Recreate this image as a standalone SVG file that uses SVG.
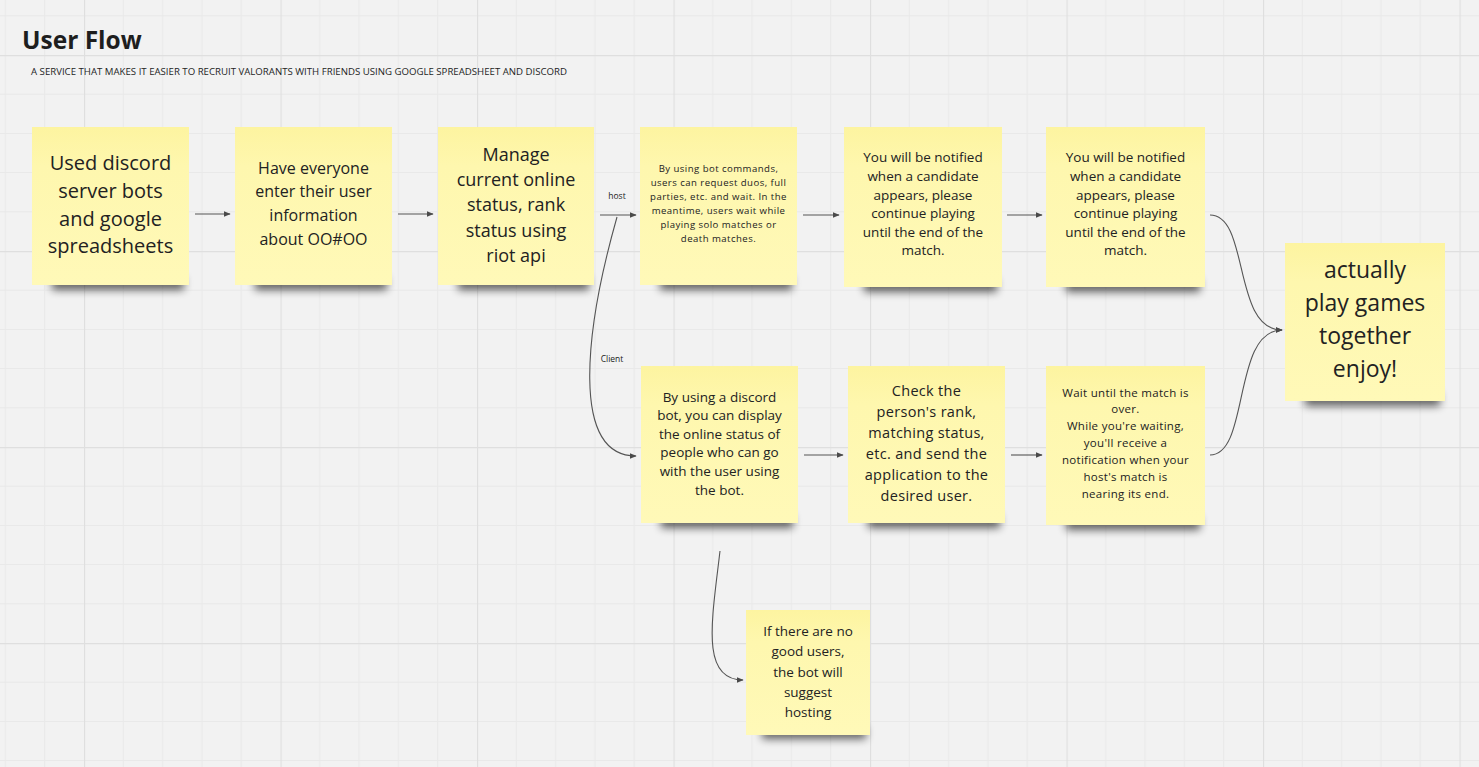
<svg xmlns="http://www.w3.org/2000/svg" width="1479" height="767" viewBox="0 0 1479 767">
<defs>
<pattern id="grid" patternUnits="userSpaceOnUse" x="84" y="55" width="196.5" height="196">
<rect width="196.5" height="196" fill="#f2f2f2"/>
<g stroke="#e9e9e9" stroke-width="1">
<line x1="39.3" y1="0" x2="39.3" y2="196"/><line x1="78.6" y1="0" x2="78.6" y2="196"/><line x1="117.9" y1="0" x2="117.9" y2="196"/><line x1="157.2" y1="0" x2="157.2" y2="196"/>
<line x1="0" y1="39.2" x2="196.5" y2="39.2"/><line x1="0" y1="78.4" x2="196.5" y2="78.4"/><line x1="0" y1="117.6" x2="196.5" y2="117.6"/><line x1="0" y1="156.8" x2="196.5" y2="156.8"/>
</g>
<g stroke="#dfdfdf" stroke-width="1.3">
<line x1="0.5" y1="0" x2="0.5" y2="196"/><line x1="0" y1="0.5" x2="196.5" y2="0.5"/>
</g>
</pattern>
<linearGradient id="noteFill" x1="0" y1="0" x2="0" y2="1">
<stop offset="0" stop-color="#fdf4a0"/>
<stop offset="0.25" stop-color="#fef7ae"/>
<stop offset="1" stop-color="#fff9b8"/>
</linearGradient>
<filter id="blur" x="-20%" y="-100%" width="140%" height="300%">
<feGaussianBlur stdDeviation="4.5"/>
</filter>
<marker id="arrow" viewBox="0 0 10 10" refX="9" refY="5" markerWidth="7" markerHeight="7" orient="auto" markerUnits="userSpaceOnUse">
<path d="M0,1 L10,5 L0,9 Z" fill="#4a4a4a"/>
</marker>
</defs>
<style>
.note{fill:url(#noteFill);}
.shadow{fill:#000;opacity:0.6;filter:url(#blur);}
.t{font-family:"Open Sans","Noto Sans","DejaVu Sans",sans-serif;fill:#222;text-anchor:middle;}
.conn{fill:none;stroke:#555;stroke-width:1.1;marker-end:url(#arrow);}
.lbl{font-family:"Open Sans","Noto Sans",sans-serif;font-size:8.5px;fill:#222;text-anchor:middle;}
</style>
<rect width="1479" height="767" fill="url(#grid)"/>

<g id="title">
<text x="22" y="49" style="font-family:'Open Sans','Noto Sans',sans-serif;font-weight:700;font-size:24.5px;fill:#1e1e1e;">User Flow</text>
<text x="31" y="75" textLength="536" lengthAdjust="spacingAndGlyphs" style="font-family:'Open Sans','Noto Sans',sans-serif;font-size:8.5px;fill:#1e1e1e;">A SERVICE THAT MAKES IT EASIER TO RECRUIT VALORANTS WITH FRIENDS USING GOOGLE SPREADSHEET AND DISCORD</text>
</g>

<g id="connectors">
<line class="conn" x1="195" y1="214" x2="230" y2="214"/>
<line class="conn" x1="398" y1="214" x2="433" y2="214"/>
<line class="conn" x1="600" y1="215" x2="636" y2="215"/>
<line class="conn" x1="803" y1="215" x2="839" y2="215"/>
<line class="conn" x1="1007" y1="215" x2="1042" y2="215"/>
<path class="conn" d="M1210,215 C1250,215 1232,330 1282,330"/>
<path class="conn" d="M1210,455 C1250,455 1232,330 1282,330"/>
<path class="conn" d="M617,217 C585,330 570,456 636,456"/>
<line class="conn" x1="804" y1="455" x2="843" y2="455"/>
<line class="conn" x1="1011" y1="455" x2="1042" y2="455"/>
<path class="conn" d="M720,551 C712,620 700,680 743,680"/>
<text class="lbl" x="617" y="199">host</text>
<text class="lbl" x="612" y="362">Client</text>
</g>

<g id="n1">
<rect class="shadow" x="52" y="277" width="132" height="13"/>
<rect class="note" x="32" y="127" width="157" height="158"/>
<text class="t" style="font-size:20px"><tspan x="110.5" y="170">Used discord</tspan><tspan x="110.5" y="198">server bots</tspan><tspan x="110.5" y="226">and google</tspan><tspan x="110.5" y="253">spreadsheets</tspan></text>
</g>

<g id="n2">
<rect class="shadow" x="255" y="277" width="132" height="13"/>
<rect class="note" x="235" y="127" width="157" height="158"/>
<text class="t" style="font-size:16px"><tspan x="313.5" y="174">Have everyone</tspan><tspan x="313.5" y="197">enter their user</tspan><tspan x="313.5" y="221">information</tspan><tspan x="313.5" y="245">about OO#OO</tspan></text>
</g>

<g id="n3">
<rect class="shadow" x="458" y="277" width="131" height="13"/>
<rect class="note" x="438" y="127" width="156" height="158"/>
<text class="t" style="font-size:18px"><tspan x="516" y="161">Manage</tspan><tspan x="516" y="186">current online</tspan><tspan x="516" y="211">status, rank</tspan><tspan x="516" y="237">status using</tspan><tspan x="516" y="262">riot api</tspan></text>
</g>

<g id="n4">
<rect class="shadow" x="660" y="277" width="132" height="13"/>
<rect class="note" x="640" y="127" width="157" height="158"/>
<text class="t" style="font-size:9.6px;letter-spacing:0.45px"><tspan x="718.5" y="172">By using bot commands,</tspan><tspan x="718.5" y="186">users can request duos, full</tspan><tspan x="718.5" y="200">parties, etc. and wait. In the</tspan><tspan x="718.5" y="214">meantime, users wait while</tspan><tspan x="718.5" y="228">playing solo matches or</tspan><tspan x="718.5" y="242">death matches.</tspan></text>
</g>

<g id="n5">
<rect class="shadow" x="864" y="279" width="133" height="13"/>
<rect class="note" x="844" y="127" width="158" height="160"/>
<text class="t" style="font-size:13.5px"><tspan x="923" y="162">You will be notified</tspan><tspan x="923" y="181">when a candidate</tspan><tspan x="923" y="200">appears, please</tspan><tspan x="923" y="218">continue playing</tspan><tspan x="923" y="237">until the end of the</tspan><tspan x="923" y="255">match.</tspan></text>
</g>

<g id="n6">
<rect class="shadow" x="1066" y="279" width="134" height="13"/>
<rect class="note" x="1046" y="127" width="159" height="160"/>
<text class="t" style="font-size:13.5px"><tspan x="1125.5" y="162">You will be notified</tspan><tspan x="1125.5" y="181">when a candidate</tspan><tspan x="1125.5" y="200">appears, please</tspan><tspan x="1125.5" y="218">continue playing</tspan><tspan x="1125.5" y="237">until the end of the</tspan><tspan x="1125.5" y="255">match.</tspan></text>
</g>

<g id="n7">
<rect class="shadow" x="1305" y="393" width="135" height="13"/>
<rect class="note" x="1285" y="243" width="160" height="158"/>
<text class="t" style="font-size:23px"><tspan x="1365" y="278">actually</tspan><tspan x="1365" y="311">play games</tspan><tspan x="1365" y="344">together</tspan><tspan x="1365" y="377">enjoy!</tspan></text>
</g>

<g id="n8">
<rect class="shadow" x="661" y="515" width="132" height="13"/>
<rect class="note" x="641" y="366" width="157" height="157"/>
<text class="t" style="font-size:13.5px"><tspan x="719.5" y="402">By using a discord</tspan><tspan x="719.5" y="420">bot, you can display</tspan><tspan x="719.5" y="439">the online status of</tspan><tspan x="719.5" y="457">people who can go</tspan><tspan x="719.5" y="476">with the user using</tspan><tspan x="719.5" y="495">the bot.</tspan></text>
</g>

<g id="n9">
<rect class="shadow" x="868" y="515" width="132" height="13"/>
<rect class="note" x="848" y="366" width="157" height="157"/>
<text class="t" style="font-size:14.5px;letter-spacing:0.3px"><tspan x="926.5" y="396">Check the</tspan><tspan x="926.5" y="417">person's rank,</tspan><tspan x="926.5" y="438">matching status,</tspan><tspan x="926.5" y="459">etc. and send the</tspan><tspan x="926.5" y="480">application to the</tspan><tspan x="926.5" y="501">desired user.</tspan></text>
</g>

<g id="n10">
<rect class="shadow" x="1066" y="517" width="134" height="13"/>
<rect class="note" x="1046" y="366" width="159" height="159"/>
<text class="t" style="font-size:11.5px;letter-spacing:0.3px"><tspan x="1125.5" y="397">Wait until the match is</tspan><tspan x="1125.5" y="413">over.</tspan><tspan x="1125.5" y="430">While you're waiting,</tspan><tspan x="1125.5" y="447">you'll receive a</tspan><tspan x="1125.5" y="464">notification when your</tspan><tspan x="1125.5" y="481">host's match is</tspan><tspan x="1125.5" y="498">nearing its end.</tspan></text>
</g>

<g id="n11">
<rect class="shadow" x="762" y="727" width="104" height="12"/>
<rect class="note" x="746" y="610" width="124" height="125"/>
<text class="t" style="font-size:13.5px"><tspan x="808" y="636">If there are no</tspan><tspan x="808" y="656">good users,</tspan><tspan x="808" y="677">the bot will</tspan><tspan x="808" y="697">suggest</tspan><tspan x="808" y="717">hosting</tspan></text>
</g>
</svg>
